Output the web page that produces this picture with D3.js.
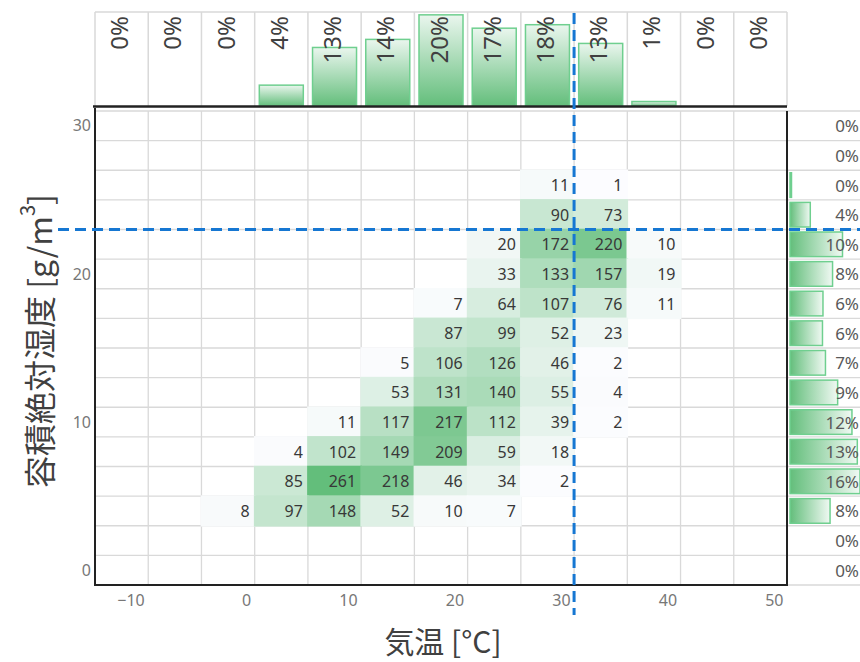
<!DOCTYPE html>
<html>
<head>
<meta charset="utf-8">
<script src="https://cdn.jsdelivr.net/npm/d3@7"></script>
<style>
  html, body { margin: 0; padding: 0; background: #fff; }
  svg { display: block; }
</style>
</head>
<body>
<svg id="chart" width="860" height="662"></svg>
<script>
// Temperature columns: lower bound of each 5 °C bin
const tempBins = [-15, -10, -5, 0, 5, 10, 15, 20, 25, 30, 35, 40, 45];
const tempBinWidth = 5;
// Absolute humidity rows (g/m³), top to bottom; each row covers ±1 around its value
const humidityRows = [30, 28, 26, 24, 22, 20, 18, 16, 14, 12, 10, 8, 6, 4, 2, 0];
const humidityBinHalf = 1;
const xTickValues = [-10, 0, 10, 20, 30, 40, 50];
const yTickValues = [30, 20, 10, 0];
// Hours per cell, one row per humidity row, one entry per temperature column (null = blank)
const _ = null;
const counts = [
  [_, _, _, _, _, _, _, _, _, _, _, _, _],
  [_, _, _, _, _, _, _, _, _, _, _, _, _],
  [_, _, _, _, _, _, _, _, 11, 1, _, _, _],
  [_, _, _, _, _, _, _, _, 90, 73, _, _, _],
  [_, _, _, _, _, _, _, 20, 172, 220, 10, _, _],
  [_, _, _, _, _, _, _, 33, 133, 157, 19, _, _],
  [_, _, _, _, _, _, 7, 64, 107, 76, 11, _, _],
  [_, _, _, _, _, _, 87, 99, 52, 23, _, _, _],
  [_, _, _, _, _, 5, 106, 126, 46, 2, _, _, _],
  [_, _, _, _, _, 53, 131, 140, 55, 4, _, _, _],
  [_, _, _, _, 11, 117, 217, 112, 39, 2, _, _, _],
  [_, _, _, 4, 102, 149, 209, 59, 18, _, _, _, _],
  [_, _, _, 85, 261, 218, 46, 34, 2, _, _, _, _],
  [_, _, 8, 97, 148, 52, 10, 7, _, _, _, _, _],
  [_, _, _, _, _, _, _, _, _, _, _, _, _],
  [_, _, _, _, _, _, _, _, _, _, _, _, _]
];
// Reference lines: 30 °C and 23 g/m³
const refTemp = 30;
const refHumidity = 23;

const xLabelText = "気温 [°C]";
const yLabelText = "容積絶対湿度 [g/m";

// ---- derived marginals ----
const total = d3.sum(counts.flat().filter(v => v != null));
const colPct = tempBins.map((t, c) => d3.sum(counts, r => r[c] || 0) / total * 100);
const rowPct = humidityRows.map((h, r) => d3.sum(counts[r], v => v || 0) / total * 100);
const pctFmt = p => d3.format(".0f")(p) + "%";

const cells = [];
counts.forEach((row, r) => row.forEach((v, c) => {
  if (v != null) cells.push({ r, c, v });
}));

const svg = d3.select("#chart");
const defs = svg.append("defs");

// ---- scales ----
const x = d3.scaleLinear().domain([-15, 50]).range([95, 787]);
const y = d3.scaleLinear().domain([31, -1]).range([111, 585]);
const topY = d3.scaleLinear().domain([0, 20.25]).range([106, 12]);
const rightX = d3.scaleLinear().domain([0, 20]).range([790, 893]);
const vmin = d3.min(cells, d => d.v), vmax = d3.max(cells, d => d.v);
const color = d3.scaleLinear().domain([vmin, vmax]).range(["#fcfcff", "#63be7b"]).interpolate(d3.interpolateRgb);

const gridColor = "#d9d9d9";
const greenLine = "#6fcf8f";

// gradients for the marginal bars
const gTop = defs.append("linearGradient").attr("id", "gTop")
  .attr("x1", 0).attr("y1", 0).attr("x2", 0).attr("y2", 1);
gTop.append("stop").attr("offset", "0%").attr("stop-color", "#eaf6ee");
gTop.append("stop").attr("offset", "100%").attr("stop-color", "#63be7b");
const gRight = defs.append("linearGradient").attr("id", "gRight")
  .attr("x1", 0).attr("y1", 0).attr("x2", 1).attr("y2", 0);
gRight.append("stop").attr("offset", "0%").attr("stop-color", "#63be7b");
gRight.append("stop").attr("offset", "100%").attr("stop-color", "#f0f9f3");

// ---- heatmap grid ----
const grid = svg.append("g").attr("stroke", gridColor).attr("stroke-width", 1.3);
const colEdges = tempBins.concat([tempBins[tempBins.length - 1] + tempBinWidth]);
const rowEdges = humidityRows.map(h => h + humidityBinHalf).concat([humidityRows[humidityRows.length - 1] - humidityBinHalf]);
grid.selectAll("line.v").data(colEdges).join("line")
  .attr("x1", d => x(d)).attr("x2", d => x(d))
  .attr("y1", y(31)).attr("y2", y(-1));
grid.selectAll("line.h").data(rowEdges).join("line")
  .attr("x1", x(-15)).attr("x2", x(50))
  .attr("y1", d => y(d)).attr("y2", d => y(d));

// filled cells
svg.append("g").selectAll("rect").data(cells).join("rect")
  .attr("x", d => x(tempBins[d.c]) - 0.8)
  .attr("y", d => y(humidityRows[d.r] + humidityBinHalf) - 0.8)
  .attr("width", d => x(tempBins[d.c] + tempBinWidth) - x(tempBins[d.c]) + 1.6)
  .attr("height", d => y(humidityRows[d.r] - humidityBinHalf) - y(humidityRows[d.r] + humidityBinHalf) + 1.6)
  .attr("fill", d => color(d.v));

svg.append("g").selectAll("text").data(cells).join("text")
  .attr("x", d => x(tempBins[d.c] + tempBinWidth) - 5)
  .attr("y", d => y(humidityRows[d.r]))
  .attr("text-anchor", "end")
  .attr("dominant-baseline", "central")
  .attr("font-family", "'Noto Sans', sans-serif")
  .attr("font-size", 16)
  .attr("fill", "#383838")
  .text(d => d.v);

// ---- top marginal (share per temperature column) ----
const topG = svg.append("g");
topG.append("line").attr("x1", x(-15)).attr("x2", x(50)).attr("y1", 12).attr("y2", 12)
  .attr("stroke", gridColor).attr("stroke-width", 1.5);
topG.selectAll("line.v").data(colEdges).join("line")
  .attr("x1", d => x(d)).attr("x2", d => x(d)).attr("y1", 12).attr("y2", 106)
  .attr("stroke", gridColor).attr("stroke-width", 1.5);
topG.selectAll("rect").data(colPct).join("rect")
  .attr("x", (p, i) => (x(tempBins[i]) + x(tempBins[i] + tempBinWidth)) / 2 - 22)
  .attr("width", 44)
  .attr("y", p => topY(p))
  .attr("height", p => Math.max(0, topY(0) - topY(p)))
  .attr("fill", "url(#gTop)")
  .attr("stroke", greenLine).attr("stroke-width", 1.5)
  .attr("display", p => p >= 0.5 ? null : "none");
topG.selectAll("text").data(colPct).join("text")
  .attr("transform", (p, i) => `translate(${(x(tempBins[i]) + x(tempBins[i] + tempBinWidth)) / 2 - 3},16) rotate(-90)`)
  .attr("text-anchor", "end")
  .attr("dominant-baseline", "central")
  .attr("font-family", "'Noto Sans', sans-serif")
  .attr("font-size", 24)
  .attr("fill", "#404040")
  .text(pctFmt);
topG.append("line").attr("x1", 93).attr("x2", x(50)).attr("y1", 106.5).attr("y2", 106.5)
  .attr("stroke", "#222").attr("stroke-width", 2.5);

// ---- right marginal (share per humidity row) ----
const rightG = svg.append("g");
rightG.selectAll("line").data(rowEdges).join("line")
  .attr("x1", x(50)).attr("x2", 860).attr("y1", d => y(d)).attr("y2", d => y(d))
  .attr("stroke", gridColor).attr("stroke-width", 1.3);
rightG.selectAll("rect").data(rowPct).join("rect")
  .attr("x", rightX(0))
  .attr("y", (p, i) => y(humidityRows[i] + humidityBinHalf) + 2.5)
  .attr("height", (p, i) => y(humidityRows[i] - humidityBinHalf) - y(humidityRows[i] + humidityBinHalf) - 5)
  .attr("width", p => Math.min(rightX(p), 860) - rightX(0))
  .attr("fill", "url(#gRight)")
  .attr("stroke", greenLine).attr("stroke-width", 1.5)
  .attr("display", p => p > 0 ? null : "none");
rightG.selectAll("text").data(rowPct).join("text")
  .attr("x", 859)
  .attr("y", (p, i) => y(humidityRows[i]))
  .attr("text-anchor", "end")
  .attr("dominant-baseline", "central")
  .attr("font-family", "'Noto Sans', sans-serif")
  .attr("font-size", 17)
  .attr("fill", "#595959")
  .text(pctFmt);

// ---- frame ----
svg.append("path")
  .attr("d", `M${x(-15)},${y(31) - 3}V${y(-1)}H${x(50)}V${y(31)}`)
  .attr("fill", "none").attr("stroke", "#222").attr("stroke-width", 2);

// ---- axes ----
const xAxis = svg.append("g").attr("transform", `translate(0,${y(-1)})`)
  .call(d3.axisBottom(x).tickValues(xTickValues).tickSize(0).tickPadding(10));
xAxis.select(".domain").remove();
xAxis.selectAll("text")
  .attr("text-anchor", "end").attr("dx", -4)
  .attr("font-family", "'Noto Sans', sans-serif").attr("font-size", 16).attr("fill", "#777");

const yAxis = svg.append("g").attr("transform", `translate(${x(-15)},0)`)
  .call(d3.axisLeft(y).tickValues(yTickValues).tickSize(0).tickPadding(4));
yAxis.select(".domain").remove();
yAxis.selectAll("text")
  .attr("font-family", "'Noto Sans', sans-serif").attr("font-size", 16).attr("fill", "#777");

// ---- reference lines ----
const refStyle = sel => sel.attr("stroke", "#1677d2").attr("stroke-width", 3)
  .attr("stroke-dasharray", "11,6").attr("fill", "none");
svg.append("line").call(refStyle)
  .attr("x1", x(refTemp)).attr("x2", x(refTemp)).attr("y1", 13).attr("y2", 615);
svg.append("line").call(refStyle)
  .attr("x1", 58).attr("x2", 860).attr("y1", y(refHumidity)).attr("y2", y(refHumidity));

// ---- axis titles ----
svg.append("text")
  .attr("x", 443).attr("y", 640)
  .attr("text-anchor", "middle").attr("dominant-baseline", "central")
  .attr("font-family", "'Noto Sans CJK JP', sans-serif").attr("font-size", 30).attr("fill", "#404040")
  .text(xLabelText);

const yt = svg.append("text")
  .attr("transform", "translate(38,341) rotate(-90)")
  .attr("text-anchor", "middle").attr("dominant-baseline", "central")
  .attr("font-family", "'Noto Sans CJK JP', sans-serif").attr("font-size", 32).attr("fill", "#404040");
yt.append("tspan").text(yLabelText);
yt.append("tspan").attr("font-size", 20).attr("dy", -12).text("3");
yt.append("tspan").attr("dy", 12).text("]");
</script>
</body>
</html>
